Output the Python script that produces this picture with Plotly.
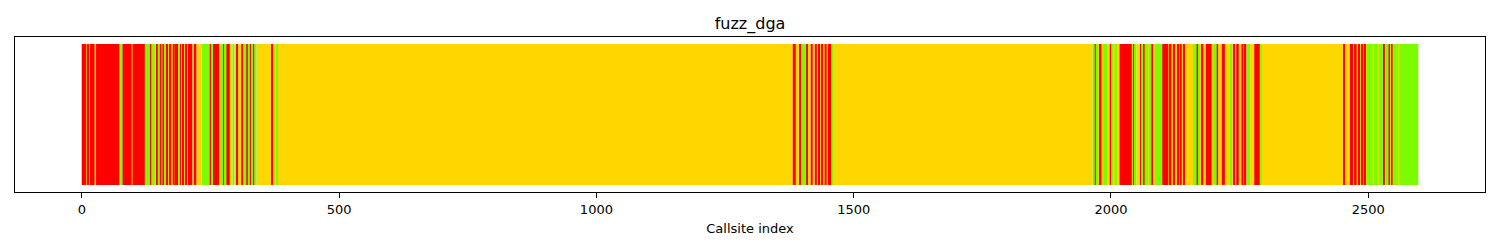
import plotly.graph_objects as go

# Run-length encoded callsite statuses: each run starts at run_starts[i] and ends at the next start
run_starts = [
    0, 2, 4, 6, 9, 11, 14, 16, 25, 28, 74, 79, 97, 99, 123, 132, 136, 142, 145, 148,
    152, 155, 157, 161, 164, 167, 171, 174, 177, 181, 183, 185, 187, 189, 191, 192,
    196, 198, 202, 204, 207, 210, 212, 215, 220, 223, 233, 249, 252, 255, 267, 272,
    275, 278, 281, 288, 293, 297, 301, 304, 310, 314, 317, 320, 323, 327, 330, 333,
    336, 340, 369, 370, 379, 380,
    1382, 1388, 1396, 1399, 1408, 1410, 1417, 1421, 1425, 1429, 1433, 1435, 1438,
    1441, 1444, 1448, 1451, 1453, 1455, 1458, 1460,
    1965, 1969, 1971, 1976, 1979, 1982, 1985, 1993, 1998, 2002, 2005, 2008, 2013,
    2017, 2041, 2044, 2047, 2050, 2057, 2060, 2063, 2066, 2073, 2076, 2079, 2082,
    2086, 2100, 2112, 2115, 2118, 2121, 2125, 2129, 2131, 2134, 2138, 2141, 2144,
    2160, 2167, 2170, 2173, 2177, 2180, 2185, 2196, 2199, 2206, 2209, 2216, 2222,
    2232, 2234, 2238, 2241, 2244, 2249, 2254, 2258, 2261, 2264, 2271, 2279, 2290,
    2294,
    2452, 2454, 2465, 2471, 2473, 2478, 2481, 2484, 2488, 2491, 2493, 2495, 2497,
    2509, 2511, 2520, 2522, 2529, 2533, 2537, 2540, 2543, 2546, 2548, 2559, 2561,
]
run_status = [
    "G", "R", "G", "R", "G", "R", "G", "R", "G", "R", "N", "R", "G", "R", "N", "R", "N", "G", "R", "N",
    "R", "G", "R", "N", "R", "G", "R", "G", "R", "G", "R", "G", "R", "N", "R", "G",
    "R", "G", "R", "G", "R", "G", "R", "G", "R", "G", "N", "R", "N", "R", "G", "N",
    "R", "N", "R", "G", "N", "G", "R", "G", "R", "G", "N", "R", "N", "R", "N", "R",
    "N", "G", "R", "G", "N", "G",
    "R", "G", "R", "N", "R", "G", "R", "G", "R", "G", "R", "G", "R",
    "G", "R", "G", "R", "G", "R", "N", "G",
    "N", "R", "N", "G", "R", "G", "N", "G", "R", "N", "G", "N", "G",
    "R", "G", "R", "N", "G", "R", "N", "R", "N", "G", "N", "R", "G",
    "N", "R", "G", "R", "G", "R", "G", "R", "G", "R", "G", "R", "G",
    "N", "R", "N", "G", "R", "G", "R", "G", "N", "R", "G", "R", "G",
    "N", "G", "R", "G", "R", "G", "R", "G", "R", "N", "G", "R", "N",
    "G",
    "R", "G", "R", "G", "R", "G", "R", "G", "R", "G", "R", "G", "N",
    "G", "N", "G", "N", "R", "G", "N", "R", "G", "R", "N", "G", "N",
]
n_callsites = 2598

status_colors = {"G": "#FFD700", "R": "#FF0000", "N": "#7CFC00"}
x_ticks = [0, 500, 1000, 1500, 2000, 2500]

fig = go.Figure()
ends = run_starts[1:] + [n_callsites]
for key, color in status_colors.items():
    xs, ws = [], []
    for s, e, st in zip(run_starts, ends, run_status):
        if st == key:
            xs.append((s + e) / 2 - 0.5)
            ws.append(e - s)
    fig.add_trace(go.Bar(
        x=xs, y=[1] * len(xs), width=ws, base=0,
        marker=dict(color=color, line=dict(width=0)),
        showlegend=False, hoverinfo="skip",
    ))

fig.update_layout(
    width=1500, height=250,
    margin=dict(l=15, r=15, t=37, b=58),
    paper_bgcolor="white", plot_bgcolor="white",
    barmode="overlay",
    font=dict(family="DejaVu Sans", size=13, color="black"),
    title=dict(text="fuzz_dga", x=0.5, xanchor="center", y=1 - 23 / 250, yanchor="middle",
               font=dict(size=16, family="DejaVu Sans", color="black")),
    xaxis=dict(
        range=[-130, 2727], tickvals=x_ticks, ticktext=[str(t) for t in x_ticks],
        ticks="outside", ticklen=5, tickwidth=1, tickcolor="black",
        showline=True, linecolor="black", linewidth=1, mirror=True,
        showgrid=False, zeroline=False,
        title=dict(text="Callsite index", font=dict(size=13), standoff=8),
        tickfont=dict(size=13),
    ),
    yaxis=dict(
        range=[-0.05, 1.05], showticklabels=False, ticks="",
        showline=True, linecolor="black", linewidth=1, mirror=True,
        showgrid=False, zeroline=False,
    ),
)

fig.write_html("out.html")
